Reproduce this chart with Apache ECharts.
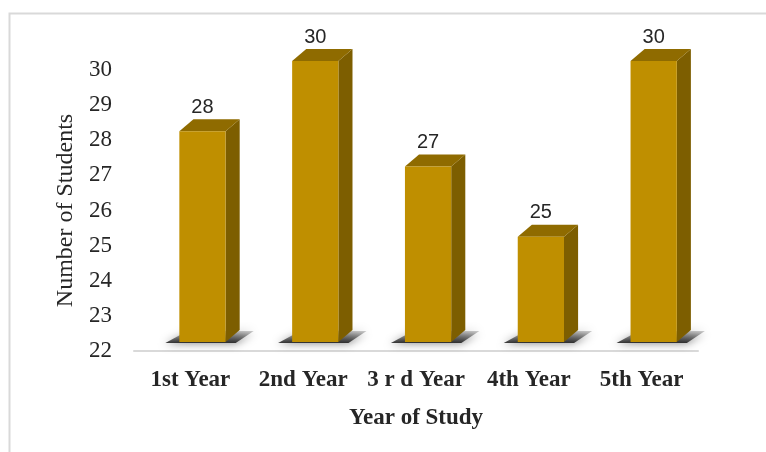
<!DOCTYPE html>
<html>
<head>
<meta charset="utf-8">
<script src="https://cdn.jsdelivr.net/npm/echarts@6/dist/echarts.min.js"></script>
<style>
html,body{margin:0;padding:0;background:#fff;}
#chart{width:766px;height:452px;}
</style>
</head>
<body>
<div id="chart"></div>
<script>
const categories = ['1st Year', '2nd Year', '3 r d Year', '4th Year', '5th Year'];
const students = [28, 30, 27, 25, 30];
const yMin = 22;
const yMax = 30;
const yStep = 1;

const frontColor = '#BF8F00';
const sideColor = '#7D5E00';
const topColor = '#8F6B00';

function renderItem(params, api) {
  const i = api.value(0);
  const v = api.value(1);
  const top = api.coord([i, v]);
  const base = api.coord([i, yMin]);
  const bw = api.size([1, 0])[0];
  const fw = bw * 0.41;
  const off = bw * 0.107;
  const dx = bw * 0.125;
  const dy = 12;
  const lift = 9;
  const x0 = top[0] + off - fw / 2;
  const x1 = x0 + fw;
  const ft = top[1] - lift;
  const fb = base[1] - lift;
  return {
    type: 'group',
    children: [
      {
        type: 'polygon',
        shape: { points: [[x0 - 14, fb + 1], [x1 + dx - 4, fb + 1], [x1 + dx + 14, fb - 11], [x0 + 8, fb - 11]] },
        style: {
          fill: new echarts.graphic.LinearGradient(0, 0, 0, 1, [
            { offset: 0, color: 'rgba(60,60,60,0.25)' },
            { offset: 1, color: 'rgba(20,20,20,0.85)' }
          ]),
          shadowBlur: 10, shadowColor: 'rgba(0,0,0,0.6)'
        },
        silent: true
      },
      {
        type: 'polygon',
        shape: { points: [[x1, ft], [x1 + dx, ft - dy], [x1 + dx, fb - dy], [x1, fb]] },
        style: { fill: sideColor }
      },
      {
        type: 'polygon',
        shape: { points: [[x0, ft], [x0 + dx, ft - dy], [x1 + dx, ft - dy], [x1, ft]] },
        style: { fill: topColor }
      },
      {
        type: 'rect',
        shape: { x: x0, y: ft, width: fw, height: fb - ft },
        style: { fill: frontColor }
      },
      {
        type: 'text',
        style: {
          text: String(v),
          x: (x0 + x1) / 2,
          y: ft - dy - 2,
          align: 'center',
          verticalAlign: 'bottom',
          font: '20px "Liberation Sans", Arial, sans-serif',
          fill: '#262626'
        }
      }
    ]
  };
}

const chart = echarts.init(document.getElementById('chart'));
chart.setOption({
  animation: false,
  backgroundColor: '#ffffff',
  graphic: [{
    type: 'rect',
    left: 7, top: 11,
    shape: { width: 800, height: 500 },
    style: { fill: 'none', stroke: '#D9D9D9', lineWidth: 2 },
    silent: true, z: -10
  }],
  grid: { left: 134, right: 68, top: 70, bottom: 101 },
  xAxis: {
    type: 'category',
    data: categories,
    boundaryGap: true,
    axisLine: { show: true, lineStyle: { color: '#D9D9D9', width: 2 } },
    axisTick: { show: false },
    axisLabel: {
      margin: 18,
      fontFamily: '"Liberation Serif", "Times New Roman", serif',
      fontSize: 23,
      fontWeight: 'bold',
      color: '#262626',
      interval: 0
    },
    name: 'Year of Study',
    nameLocation: 'middle',
    nameGap: 56,
    nameTextStyle: {
      fontFamily: '"Liberation Serif", "Times New Roman", serif',
      fontSize: 23,
      fontWeight: 'bold',
      color: '#262626'
    }
  },
  yAxis: {
    type: 'value',
    min: yMin,
    max: yMax,
    interval: yStep,
    axisLine: { show: false },
    axisTick: { show: false },
    splitLine: { show: false },
    axisLabel: {
      margin: 22,
      fontFamily: '"Liberation Serif", "Times New Roman", serif',
      fontSize: 23,
      color: '#262626'
    },
    name: 'Number of Students',
    nameLocation: 'middle',
    nameGap: 56,
    nameRotate: 90,
    nameTextStyle: {
      fontFamily: '"Liberation Serif", "Times New Roman", serif',
      fontSize: 24,
      color: '#262626'
    }
  },
  series: [{
    type: 'custom',
    renderItem: renderItem,
    encode: { x: 0, y: 1 },
    data: students.map((v, i) => [i, v]),
    clip: false
  }]
});
</script>
</body>
</html>
